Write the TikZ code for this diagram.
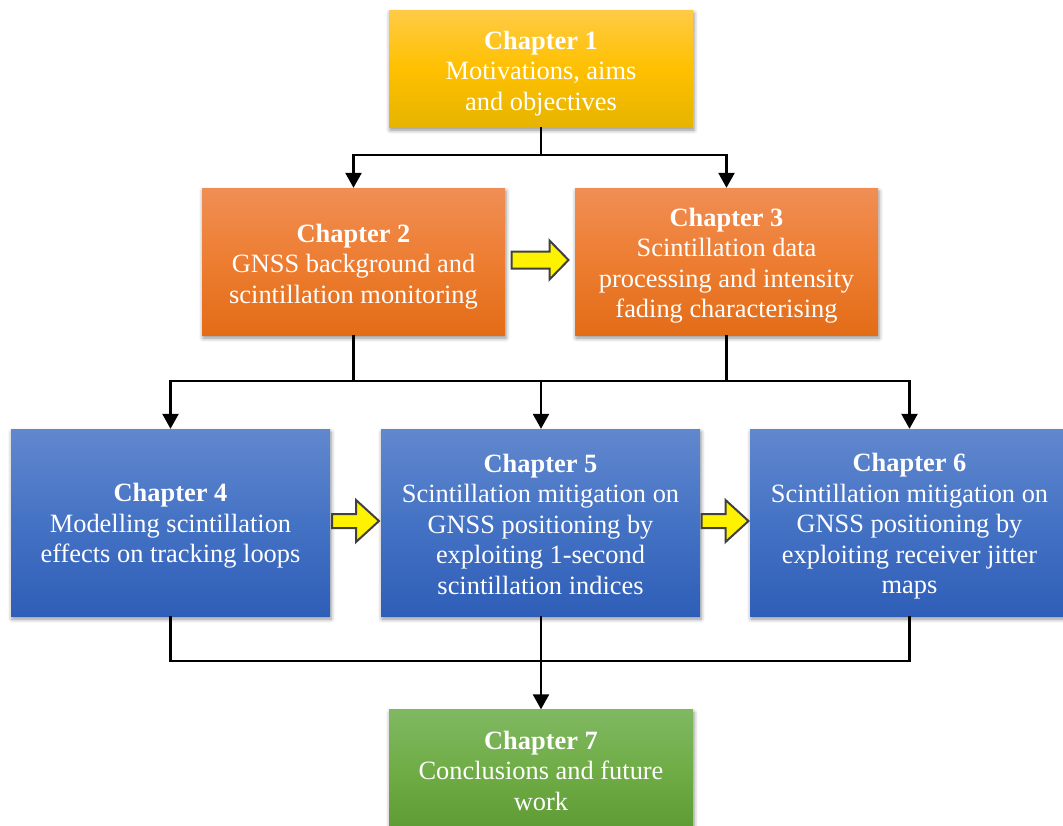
\documentclass[tikz,border=0pt]{standalone}
\usepackage{fontspec}
\setmainfont{Liberation Serif}
\usetikzlibrary{arrows.meta,shadows.blur,calc}

\definecolor{yelTop}{RGB}{255,203,70}
\definecolor{yelMid}{RGB}{255,192,0}
\definecolor{yelBot}{RGB}{230,180,0}
\definecolor{orgTop}{RGB}{240,142,85}
\definecolor{orgMid}{RGB}{237,125,49}
\definecolor{orgBot}{RGB}{227,108,23}
\definecolor{bluTop}{RGB}{97,136,206}
\definecolor{bluMid}{RGB}{68,114,196}
\definecolor{bluBot}{RGB}{47,94,184}
\definecolor{grnTop}{RGB}{128,184,98}
\definecolor{grnMid}{RGB}{112,173,71}
\definecolor{grnBot}{RGB}{95,156,53}
\definecolor{arrowEdge}{RGB}{64,64,64}

\tikzset{
  chapbox/.style={rectangle, inner sep=0pt,
    blur shadow={shadow xshift=1pt, shadow yshift=-3pt, shadow blur radius=4pt, shadow opacity=45}},
  chaptext/.style={inner sep=0pt, text=white, align=center,
    font=\fontsize{26.4}{30.5}\selectfont},
  yelbox/.style={chapbox, top color=yelTop, bottom color=yelBot, middle color=yelMid},
  orgbox/.style={chapbox, top color=orgTop, bottom color=orgBot, middle color=orgMid},
  blubox/.style={chapbox, top color=bluTop, bottom color=bluBot, middle color=bluMid},
  grnbox/.style={chapbox, top color=grnTop, bottom color=grnBot, middle color=grnMid},
  link/.style={line width=2.5pt, black},
  arr/.style={link, -{Triangle[width=16pt,length=15pt]}},
  blockarrow/.style={draw=arrowEdge, fill=yellow, line width=2pt, line join=miter}
}

\begin{document}
\begin{tikzpicture}[x=1pt,y=-1pt]
\useasboundingbox (0,0) rectangle (1063,825);

% chapter boxes
\node[yelbox, minimum width=304pt, minimum height=117pt] (c1) at (541,68.5) {};
\node[orgbox, minimum width=303pt, minimum height=147pt] (c2) at (353.5,261.5) {};
\node[orgbox, minimum width=303pt, minimum height=147pt] (c3) at (726.5,261.5) {};
\node[blubox, minimum width=319pt, minimum height=187pt] (c4) at (170.5,522.5) {};
\node[blubox, minimum width=319pt, minimum height=187pt] (c5) at (540.5,522.5) {};
\node[blubox, minimum width=319pt, minimum height=187pt] (c6) at (909.5,522.5) {};
\node[grnbox, minimum width=304pt, minimum height=117pt] (c7) at (541,768) {};

% chapter titles and descriptions
\node[chaptext] (t1) at ($(c1.center)+(0,5)$)
  {\textbf{Chapter 1}\\Motivations, aims\\and objectives};
\node[chaptext] (t2) at ($(c2.center)+(0,5)$)
  {\textbf{Chapter 2}\\GNSS background and\\scintillation monitoring};
\node[chaptext] (t3) at ($(c3.center)+(0,4)$)
  {\textbf{Chapter 3}\\Scintillation data\\processing and intensity\\fading characterising};
\node[chaptext] (t4) at ($(c4.center)+(0,3.5)$)
  {\textbf{Chapter 4}\\Modelling scintillation\\effects on tracking loops};
\node[chaptext] (t5) at ($(c5.center)+(0,1.5)$)
  {\textbf{Chapter 5}\\Scintillation mitigation on\\GNSS positioning by\\exploiting 1-second\\scintillation indices};
\node[chaptext] (t6) at ($(c6.center)+(0,4)$)
  {\textbf{Chapter 6}\\Scintillation mitigation on\\GNSS positioning by\\exploiting receiver jitter\\maps};
\node[chaptext] (t7) at ($(c7.center)+(0,2.5)$)
  {\textbf{Chapter 7}\\Conclusions and future\\work};

% junction points of the tree connectors
\coordinate (j1) at (541,155);
\coordinate (j2) at (541,381);
\coordinate (j3) at (541,661);

% chapter 1 to chapters 2 and 3
\draw[link] (c1.south) -- (j1);
\draw[arr] (j1) -| (c2.north);
\draw[arr] (j1) -| (c3.north);

% chapters 2 and 3 to chapters 4, 5 and 6
\draw[link] (c2.south) -- (c2.south |- j2);
\draw[link] (c3.south) -- (c3.south |- j2);
\draw[arr] (j2) -| (c4.north);
\draw[arr] (j2) -| (c6.north);
\draw[arr] (j2) -- (j2 |- c5.north);

% chapters 4, 5 and 6 to chapter 7
\draw[link] (c4.south) |- (j3);
\draw[link] (c6.south) |- (j3);
\draw[arr] (c5.south -| c7.north) -- (c7.north);

% yellow block arrows between neighbouring chapters
\coordinate (b23) at ($(c2.east)!0.5!(c3.west)+(0,-1.5)$);
\coordinate (b45) at ($(c4.east)!0.5!(c5.west)+(0,-1.5)$);
\coordinate (b56) at ($(c5.east)!0.5!(c6.west)+(0,-1.5)$);

\draw[blockarrow, shift={(b23)}]
  (-28.5,-8.5) -- (9.5,-8.5) -- (9.5,-19.5) -- (28.5,0) -- (9.5,19.5)
  -- (9.5,8.5) -- (-28.5,8.5) -- cycle;
\foreach \b in {b45,b56}
  \draw[blockarrow, shift={(\b)}]
    (-23.5,-7) -- (0.5,-7) -- (0.5,-21) -- (23.5,0) -- (0.5,21)
    -- (0.5,7) -- (-23.5,7) -- cycle;
\end{tikzpicture}
\end{document}
